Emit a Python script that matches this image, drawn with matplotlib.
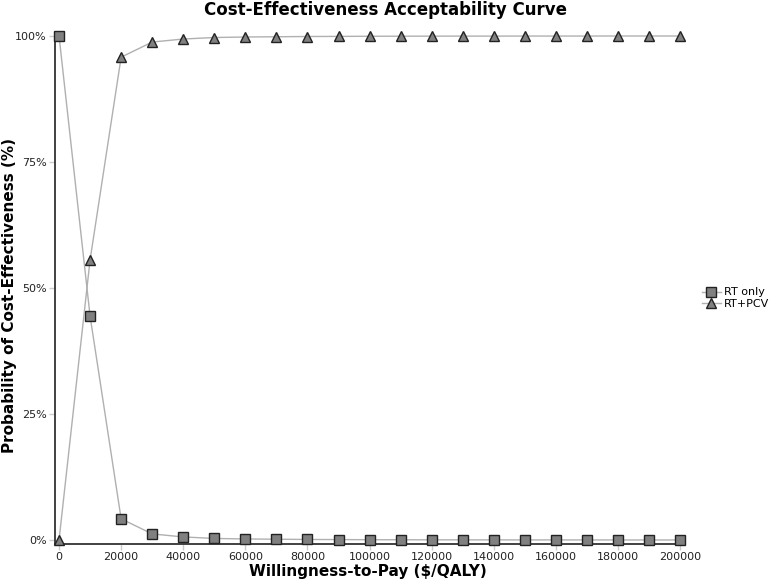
import numpy as np
import matplotlib
matplotlib.use("Agg")
import matplotlib.pyplot as plt
from matplotlib.ticker import FuncFormatter

# values
wtp = [0, 10000, 20000, 30000, 40000, 50000, 60000, 70000, 80000, 90000, 100000,
       110000, 120000, 130000, 140000, 150000, 160000, 170000, 180000, 190000, 200000]
rt_pcv = [0.0, 55.6, 95.8, 98.8, 99.4, 99.7, 99.8, 99.85, 99.9, 99.92, 99.95,
          99.96, 99.97, 99.98, 99.98, 99.99, 99.99, 99.99, 100.0, 100.0, 100.0]
rt_only = [100 - v for v in rt_pcv]
x_ticks = list(range(0, 200001, 20000))
y_ticks = [0, 25, 50, 75, 100]

plt.rcParams['font.family'] = ['DejaVu Sans']

fig = plt.figure(figsize=(7.71, 5.80), dpi=100)
ax = fig.add_axes([55 / 771, 36 / 580, (681 - 55) / 771, (544 - 36) / 580])

line_col = '#b0b0b0'
face = '#808080'
edge = '#222222'
ax.plot(wtp, rt_only, color=line_col, lw=1, marker='s', ms=6.5, mfc=face, mec=edge,
        mew=1.0, label='RT only', clip_on=False, zorder=3)
ax.plot(wtp, rt_pcv, color=line_col, lw=1, marker='^', ms=7.5, mfc=face, mec=edge,
        mew=1.0, label='RT+PCV', clip_on=False, zorder=3)

ax.set_xlim(-1300, 200300)
ax.set_ylim(-0.8, 100)
ax.set_xticks(x_ticks)
ax.set_yticks(y_ticks)
ax.yaxis.set_major_formatter(FuncFormatter(lambda v, p: f"{int(v)}%"))
ax.tick_params(axis='both', labelsize=8, colors='#cccccc', labelcolor='#222222',
               length=4, width=1, pad=2)

for s in ['top', 'right']:
    ax.spines[s].set_visible(False)
for s in ['left', 'bottom']:
    ax.spines[s].set_color('#333333')
    ax.spines[s].set_linewidth(1.3)

ax.set_xlabel('Willingness-to-Pay ($/QALY)', fontsize=11, fontweight='bold', labelpad=1)
ax.set_ylabel('Probability of Cost-Effectiveness (%)', fontsize=11, fontweight='bold', labelpad=0)
ax.yaxis.set_label_coords(-38 / 626, 0.49)
fig.suptitle('Cost-Effectiveness Acceptability Curve', fontsize=12, fontweight='bold',
             x=0.5, y=1 - 1 / 580, va='top')

ax.legend(loc='center left', bbox_to_anchor=(702 / 771, 1 - 298 / 580),
          bbox_transform=fig.transFigure, frameon=False, fontsize=8,
          handlelength=1.7, handletextpad=0.3, labelspacing=0.1, borderpad=0,
          borderaxespad=0)

fig.savefig('out.png', dpi=100)
